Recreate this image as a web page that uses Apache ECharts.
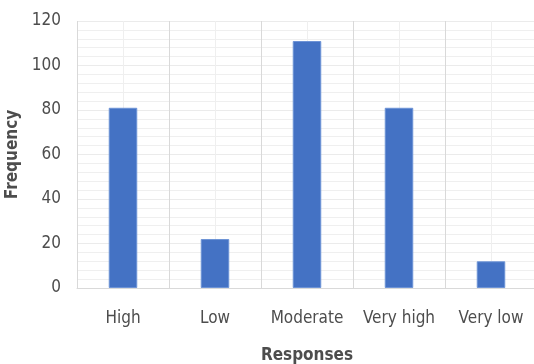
<!DOCTYPE html>
<html>
<head>
<meta charset="utf-8">
<script src="https://cdn.jsdelivr.net/npm/echarts@6/dist/echarts.min.js"></script>
<style>
html,body{margin:0;padding:0;background:#fff;}
#chart{width:534px;height:364px;}
</style>
</head>
<body>
<div id="chart"></div>
<script>
const categories = ['High', 'Low', 'Moderate', 'Very high', 'Very low'];
const frequency = [81, 22, 111, 81, 12];
const yTicks = { min: 0, max: 120, interval: 20 };
const xAxisTitle = 'Responses';
const yAxisTitle = 'Frequency';

const FONT = '"DejaVu Sans Condensed", "Liberation Sans Narrow", "DejaVu Sans", sans-serif';
const chart = echarts.init(document.getElementById('chart'), null, { renderer: 'canvas' });
chart.setOption({
  animation: false,
  backgroundColor: '#ffffff',
  grid: { left: 77, right: -3, top: 21, bottom: 76, containLabel: false, outerBoundsMode: 'none' },
  xAxis: [
    {
      type: 'category',
      data: categories,
      boundaryGap: true,
      z: 2,
      axisLine: { show: true, lineStyle: { color: '#d9d9d9', width: 1 } },
      axisTick: { show: false },
      axisLabel: { interval: 0, color: '#4d4d4d', fontFamily: FONT, fontSize: 17, margin: 22 },
      splitLine: { show: true, interval: 0, lineStyle: { color: '#d9d9d9', width: 1 } },
      name: xAxisTitle,
      nameLocation: 'middle',
      nameGap: 59,
      nameTextStyle: { color: '#4d4d4d', fontFamily: FONT, fontSize: 17, fontWeight: 'bold' }
    },
    {
      type: 'value',
      min: 0,
      max: categories.length * 2,
      interval: 1,
      show: true,
      z: 0,
      axisLine: { show: false },
      axisTick: { show: false },
      axisLabel: { show: false },
      splitLine: { show: true, lineStyle: { color: '#efefef', width: 1 } }
    }
  ],
  yAxis: {
    type: 'value',
    min: yTicks.min,
    max: yTicks.max,
    interval: yTicks.interval,
    axisLine: { show: false },
    axisTick: { show: false },
    axisLabel: { color: '#4d4d4d', fontFamily: FONT, fontSize: 17, margin: 16 },
    splitLine: { show: true, lineStyle: { color: '#ebebeb', width: 1 } },
    minorTick: { show: false, splitNumber: 5 },
    minorSplitLine: { show: true, lineStyle: { color: '#efefef', width: 1 } },
    name: yAxisTitle,
    nameLocation: 'middle',
    nameGap: 45,
    nameTextStyle: { color: '#4d4d4d', fontFamily: FONT, fontSize: 17, fontWeight: 'bold' }
  },
  series: [{
    type: 'bar',
    xAxisIndex: 0,
    data: frequency,
    barWidth: '31%',
    itemStyle: { color: '#4472C4', borderColor: '#6d93d6', borderWidth: 1 }
  }]
});
</script>
</body>
</html>
